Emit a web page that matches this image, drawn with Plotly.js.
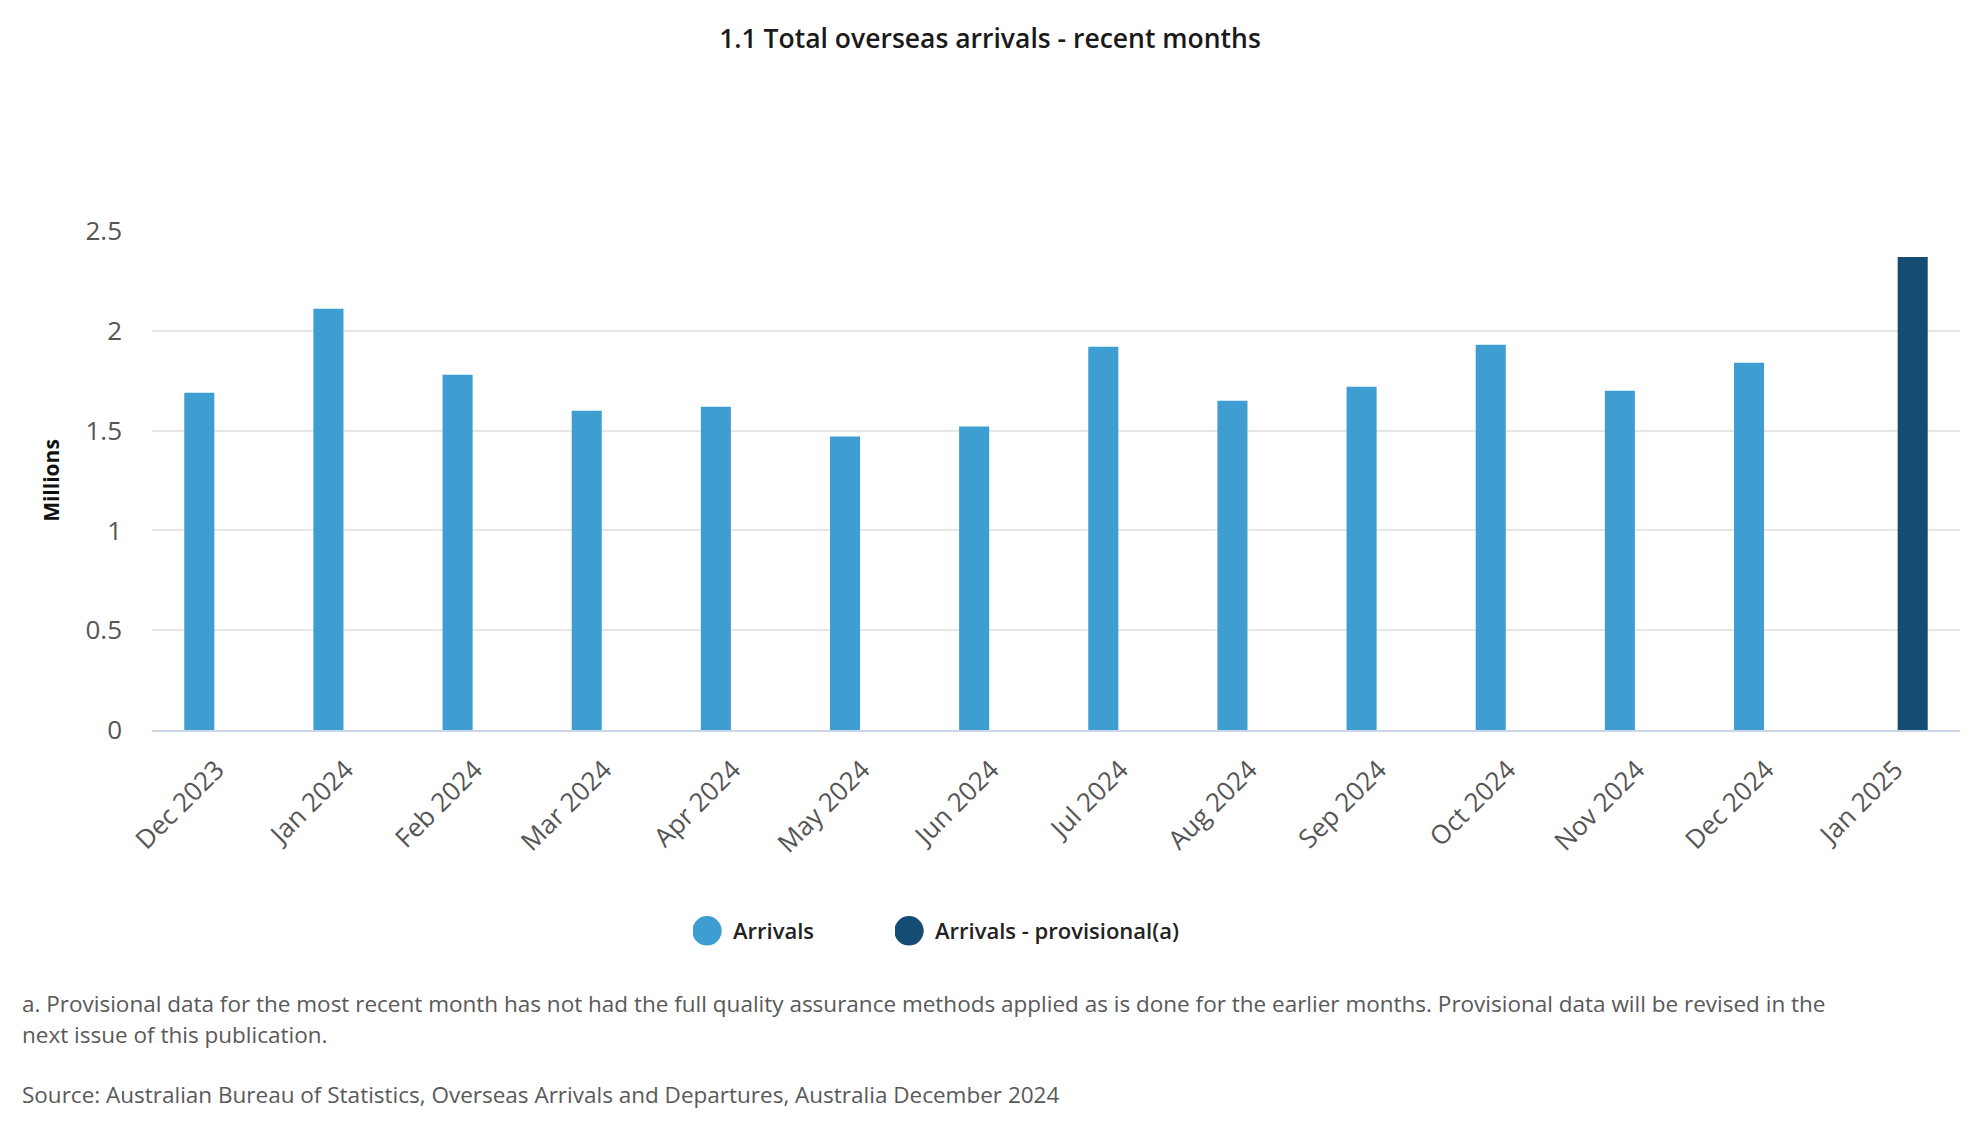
<!DOCTYPE html>
<html><head><meta charset="utf-8">
<script src="https://cdn.plot.ly/plotly-3.0.1.min.js"></script>
<style>html,body{margin:0;padding:0;background:#fff}</style>
</head><body><div id="chart" style="width:1980px;height:1140px"></div>
<script>
const months = ['Dec 2023','Jan 2024','Feb 2024','Mar 2024','Apr 2024','May 2024','Jun 2024','Jul 2024','Aug 2024','Sep 2024','Oct 2024','Nov 2024','Dec 2024','Jan 2025'];
const arrivals = [1.69, 2.11, 1.78, 1.60, 1.62, 1.47, 1.52, 1.92, 1.65, 1.72, 1.93, 1.70, 1.84, null];
const provisional = [null, null, null, null, null, null, null, null, null, null, null, null, null, 2.37];
const seriesNames = ['Arrivals', 'Arrivals - provisional(a)'];
const seriesColors = ['#3e9dd1', '#154c74'];
const yTickVals = [0, 0.5, 1, 1.5, 2, 2.5];
const yTickText = ['0', '0.5', '1', '1.5', '2', '2.5'];
const titleText = '1.1 Total overseas arrivals - recent months';
const yTitle = 'Millions';
const noteLine1 = 'a. Provisional data for the most recent month has not had the full quality assurance methods applied as is done for the earlier months. Provisional data will be revised in the';
const noteLine2 = 'next issue of this publication.';
const sourceText = 'Source: Australian Bureau of Statistics, Overseas Arrivals and Departures, Australia December 2024';

const FONT = '"Open Sans", "Noto Sans", sans-serif';

const W = 1980, H = 1140;
const L = 152, R = 20, T = 231, B = 410;
const plotH = H - T - B;
const plotW = W - L - R;
const py = (pix) => (H - B - pix) / plotH;
const px = (pix) => (pix - L) / plotW;

const seriesData = [arrivals, provisional];
const legendIds = ['legend', 'legend2'];
const legendLeft = [693, 895];
const traces = [];
seriesData.forEach((vals, i) => {
  traces.push({
    type: 'bar', x: months, y: vals, name: seriesNames[i],
    marker: {color: seriesColors[i]}, showlegend: false, hoverinfo: 'x+y'
  });
});
seriesNames.forEach((nm, i) => {
  traces.push({
    type: 'scatter', mode: 'markers', x: [null], y: [null], name: nm,
    legend: legendIds[i],
    marker: {symbol: 'circle', size: 16, color: seriesColors[i], line: {color: seriesColors[i], width: 5}},
    showlegend: true, hoverinfo: 'skip'
  });
});

const legendStyle = (i) => ({
  orientation: 'h', x: px(legendLeft[i]), xanchor: 'left', y: py(931), yanchor: 'middle',
  font: {family: FONT, size: 22, color: '#222222', weight: 600},
  bgcolor: 'rgba(0,0,0,0)', itemclick: false, itemdoubleclick: false
});

const layout = {
  width: W, height: H,
  margin: {l: L, r: R, t: T, b: B},
  paper_bgcolor: '#ffffff', plot_bgcolor: '#ffffff',
  font: {family: FONT, color: '#555555'},
  title: {
    text: titleText, x: 0.5, xref: 'container', xanchor: 'center',
    y: 1 - 39 / H, yref: 'container', yanchor: 'middle',
    font: {family: FONT, size: 26.5, color: '#1a1a1a', weight: 600}
  },
  barmode: 'group', bargap: 0.465, bargroupgap: 0.13,
  xaxis: {
    type: 'category', tickangle: -45, showgrid: false,
    showline: true, linecolor: '#ccd6eb', linewidth: 2,
    ticks: '', ticklabelstandoff: 12,
    tickfont: {family: FONT, size: 26, color: '#555555'},
    fixedrange: true
  },
  yaxis: {
    range: [0, 2.5], tickvals: yTickVals, ticktext: yTickText,
    showgrid: true, gridcolor: '#e6e6e6', gridwidth: 1.5,
    zeroline: false, showline: false, ticks: '',
    ticklabelstandoff: 29,
    tickfont: {family: FONT, size: 26, color: '#555555'},
    title: {text: yTitle, standoff: 20, font: {family: FONT, size: 21, color: '#111111', weight: 700}},
    fixedrange: true
  },
  legend: legendStyle(0),
  legend2: legendStyle(1),
  annotations: [
    {text: noteLine1, xref: 'paper', yref: 'paper', x: px(20), y: py(1004), xanchor: 'left', yanchor: 'middle', showarrow: false, font: {family: FONT, size: 22.5, color: '#595959'}},
    {text: noteLine2, xref: 'paper', yref: 'paper', x: px(20), y: py(1034), xanchor: 'left', yanchor: 'middle', showarrow: false, font: {family: FONT, size: 22.5, color: '#595959'}},
    {text: sourceText, xref: 'paper', yref: 'paper', x: px(20), y: py(1094), xanchor: 'left', yanchor: 'middle', showarrow: false, font: {family: FONT, size: 22.5, color: '#595959'}}
  ]
};

Plotly.newPlot('chart', traces, layout, {displayModeBar: false}).then(() => {
  document.querySelectorAll('#chart .legendpoints path.scatterpts').forEach(p => {
    p.setAttribute('transform', 'translate(14,0) scale(1.4)');
  });
});
</script>
</body></html>
